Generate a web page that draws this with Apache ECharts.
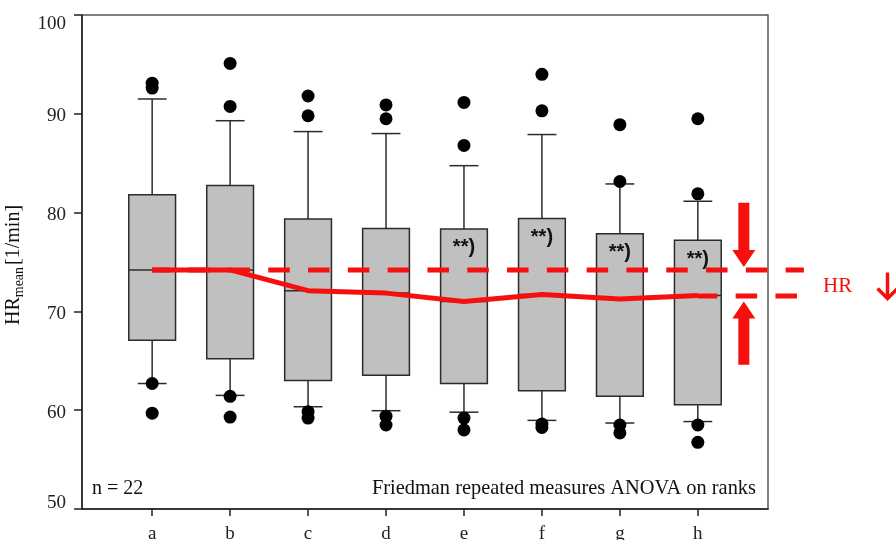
<!DOCTYPE html>
<html>
<head>
<meta charset="utf-8">
<script src="https://cdn.jsdelivr.net/npm/echarts@6/dist/echarts.min.js"></script>
<style>
  html, body { margin: 0; padding: 0; background: #fff; }
  #chart { width: 896px; height: 540px; }
</style>
</head>
<body>
<div id="chart"></div>
<script>
// chart data
var categories = ['a', 'b', 'c', 'd', 'e', 'f', 'g', 'h'];
var lowWhisker = [62.7, 61.5, 60.35, 59.95, 59.8, 58.97, 58.7, 58.85];
var q1 = [67.07, 65.2, 63.0, 63.55, 62.7, 61.98, 61.4, 60.55];
var medians = [74.2, 74.2, 72.1, 71.85, 71.0, 71.7, 71.25, 71.6];
var q3 = [81.8, 82.75, 79.35, 78.4, 78.35, 79.4, 77.85, 77.2];
var highWhisker = [91.5, 89.3, 88.2, 88.0, 84.75, 87.9, 82.9, 81.15];
var outliers = [
  [93.1, 92.6, 62.7, 59.7],
  [95.1, 90.75, 61.4, 59.3],
  [91.8, 89.8, 59.85, 59.2],
  [90.9, 89.5, 59.4, 58.5],
  [91.15, 86.8, 59.2, 58.0],
  [94.0, 90.3, 58.6, 58.25],
  [88.9, 83.15, 58.5, 57.7],
  [89.5, 81.9, 58.5, 56.75]
];
var significance = ['', '', '', '', '**)', '**)', '**)', '**)'];
// dashed HR reference lines: [x from, x to, value, dash offset]
var dashedLines = [[0, 8.36, 74.2, 3.3], [7, 8.29, 71.55, 2]];
// block arrows: [x, from value, to value]
var arrowMarks = [[7.59, 81.0, 74.5], [7.59, 64.6, 71.0]];

var RED = '#f5100f';
var SERIF = '"Liberation Serif", "Times New Roman", serif';

var boxData = categories.map(function (c, i) {
  return [i, lowWhisker[i], q1[i], medians[i], q3[i], highWhisker[i]];
});
var outlierData = [];
outliers.forEach(function (list, i) {
  list.forEach(function (v) { outlierData.push([i, v]); });
});

function renderBox(params, api) {
  var x = api.value(0);
  var lo = api.coord([x, api.value(1)]);
  var bq1 = api.coord([x, api.value(2)]);
  var med = api.coord([x, api.value(3)]);
  var bq3 = api.coord([x, api.value(4)]);
  var hi = api.coord([x, api.value(5)]);
  var bw = api.size([0.6, 0])[0];
  var cw = api.size([0.37, 0])[0];
  var cx = lo[0];
  var ls = { stroke: '#2b2b2b', lineWidth: 1.5 };
  var children = [
    { type: 'line', shape: { x1: cx, y1: bq3[1], x2: cx, y2: hi[1] }, style: ls },
    { type: 'line', shape: { x1: cx - cw / 2, y1: hi[1], x2: cx + cw / 2, y2: hi[1] }, style: ls },
    { type: 'line', shape: { x1: cx, y1: bq1[1], x2: cx, y2: lo[1] }, style: ls },
    { type: 'line', shape: { x1: cx - cw / 2, y1: lo[1], x2: cx + cw / 2, y2: lo[1] }, style: ls },
    { type: 'rect', shape: { x: cx - bw / 2, y: bq3[1], width: bw, height: bq1[1] - bq3[1] },
      style: { fill: '#c0c0c0', stroke: '#2b2b2b', lineWidth: 1.5 } },
    { type: 'line', shape: { x1: cx - bw / 2, y1: med[1], x2: cx + bw / 2, y2: med[1] }, style: ls }
  ];
  var sig = significance[params.dataIndex];
  if (sig) {
    children.push({
      type: 'text',
      style: { x: cx, y: bq3[1] + 9, text: sig, align: 'center', verticalAlign: 'top',
        font: 'bold 20px "Liberation Sans", Arial, sans-serif', fill: '#111' }
    });
  }
  return { type: 'group', children: children };
}

function renderDashed(params, api) {
  var y = api.value(2);
  var p1 = api.coord([api.value(0), y]);
  var p2 = api.coord([api.value(1), y]);
  return {
    type: 'line',
    shape: { x1: p1[0], y1: p1[1], x2: p2[0], y2: p2[1] },
    style: { stroke: RED, lineWidth: 5, lineDash: [21.5, 18.3], lineDashOffset: api.value(3) }
  };
}

function renderArrow(params, api) {
  var x = api.value(0);
  var from = api.coord([x, api.value(1)]);
  var to = api.coord([x, api.value(2)]);
  var dir = to[1] > from[1] ? 1 : -1;
  var head = 17, hw = 11.5, sw = 5.5;
  var cx = from[0];
  var hy = to[1] - dir * head;
  return {
    type: 'polygon',
    shape: { points: [
      [cx - sw, from[1]], [cx + sw, from[1]], [cx + sw, hy], [cx + hw, hy],
      [cx, to[1]], [cx - hw, hy], [cx - sw, hy]
    ] },
    style: { fill: RED }
  };
}

var chart = echarts.init(document.getElementById('chart'));
chart.setOption({
  animation: false,
  backgroundColor: '#fff',
  grid: {
    left: 82, top: 15, right: 128, bottom: 31,
    outerBoundsMode: 'none',
    show: true, borderColor: '#555', borderWidth: 1.5, backgroundColor: 'transparent'
  },
  xAxis: {
    type: 'value',
    min: -0.9, max: 7.9,
    splitLine: { show: false },
    axisLine: { show: true, onZero: false, lineStyle: { color: '#222', width: 1.5 } },
    axisTick: { show: true, length: 7, lineStyle: { color: '#222', width: 1.5 },
      customValues: [0, 1, 2, 3, 4, 5, 6, 7] },
    axisLabel: {
      customValues: [0, 1, 2, 3, 4, 5, 6, 7],
      formatter: function (v) { return categories[Math.round(v)]; },
      fontFamily: SERIF, fontSize: 19, color: '#222', margin: 16
    }
  },
  yAxis: {
    type: 'value',
    min: 50, max: 100, interval: 10,
    name: '{a|HR}{b|mean}{a|[1/min]}',
    nameLocation: 'middle',
    nameGap: 56,
    nameTextStyle: {
      padding: [0, 6, 0, 0],
      rich: {
        a: { fontFamily: SERIF, fontSize: 20, color: '#111', lineHeight: 24 },
        b: { fontFamily: SERIF, fontSize: 14, color: '#111', verticalAlign: 'bottom', padding: [6, 2, 0, 0] }
      }
    },
    splitLine: { show: false },
    axisLine: { show: true, onZero: false, lineStyle: { color: '#222', width: 1.5 } },
    axisTick: { show: true, length: 8, lineStyle: { color: '#222', width: 1.5 } },
    axisLabel: {
      color: '#222', margin: 16,
      formatter: function (v) {
        if (v === 100) return '{lo|100}';
        if (v === 50) return '{hi|50}';
        return '{n|' + v + '}';
      },
      rich: {
        n: { fontFamily: SERIF, fontSize: 19, color: '#222', padding: [5, 0, 0, 0] },
        lo: { fontFamily: SERIF, fontSize: 19, color: '#222', padding: [18, 0, 0, 0] },
        hi: { fontFamily: SERIF, fontSize: 19, color: '#222', padding: [0, 0, 12, 0] }
      }
    }
  },
  series: [
    {
      type: 'custom',
      renderItem: renderBox,
      data: boxData,
      encode: { x: 0, y: [1, 2, 3, 4, 5] },
      z: 2
    },
    {
      type: 'scatter',
      data: outlierData,
      symbol: 'circle',
      symbolSize: 13,
      itemStyle: { color: '#000', opacity: 1 },
      z: 3
    },
    {
      type: 'custom',
      renderItem: renderDashed,
      data: dashedLines,
      encode: { x: [0, 1], y: 2 },
      clip: false,
      z: 4
    },
    {
      type: 'line',
      data: medians.map(function (v, i) { return [i, v]; }),
      showSymbol: false,
      lineStyle: { color: RED, width: 5 },
      z: 5
    },
    {
      type: 'custom',
      renderItem: renderArrow,
      data: arrowMarks,
      encode: { x: 0, y: [1, 2] },
      z: 5
    }
  ],
  graphic: [
    { type: 'text', left: 92, top: 479,
      style: { text: 'n = 22', font: '20px ' + SERIF, fill: '#111' } },
    { type: 'text', right: 140, top: 479,
      style: { text: 'Friedman repeated measures ANOVA on ranks', font: '20.4px ' + SERIF, fill: '#111' } },
    { type: 'text', left: 823, top: 276,
      style: { text: 'HR', font: '21px ' + SERIF, fill: RED } },
    { type: 'group', left: 875, top: 270, children: [
      { type: 'line', shape: { x1: 11, y1: 0, x2: 11, y2: 26 },
        style: { stroke: RED, lineWidth: 3.5 } },
      { type: 'polyline', shape: { points: [[1, 16], [11, 26], [21, 16]] },
        style: { stroke: RED, lineWidth: 3.5, fill: null } }
    ] }
  ]
});
</script>
</body>
</html>
